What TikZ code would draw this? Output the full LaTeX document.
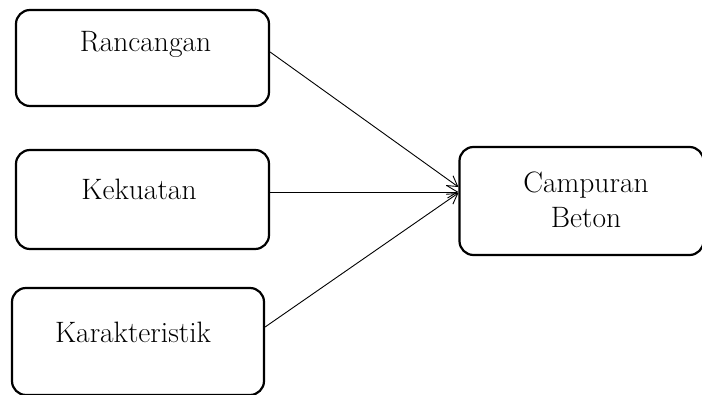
\documentclass[tikz,border=0pt]{standalone}
\usetikzlibrary{arrows.meta,calc}
\begin{document}
\begin{tikzpicture}[x=1pt,y=1pt,
  box/.style={draw=black, line width=2.2pt, rounded corners=14pt, rectangle, inner sep=0pt},
  lbl/.style={anchor=base, inner sep=0pt, font=\fontsize{29.5}{34}\selectfont},
  arr/.style={line width=0.9pt, -{Straight Barb[length=10pt,width=12pt,line width=0.9pt]}}]
\useasboundingbox (0,0) rectangle (702,394);
\node[box, minimum width=253pt, minimum height=96pt] (b1) at (142.5,336) {};
\node[box, minimum width=253pt, minimum height=99pt] (b2) at (142.5,194.5) {};
\node[box, minimum width=252pt, minimum height=107pt] (b3) at (138,52.5) {};
\node[box, minimum width=244pt, minimum height=108pt] (b4) at (581.5,193) {};
\node[lbl] (t1) at (145.5,342) {Rancangan};
\node[lbl] (t2) at (139,194) {Kekuatan};
\node[lbl] (t3) at (133,52) {Karakteristik};
\node[lbl] (t4a) at (586,201) {Campuran};
\node[lbl] (t4b) at (586,166) {Beton};
\coordinate (e1) at ($(b4.west)+(0,14)$);
\coordinate (e2) at ($(b4.west)+(0,9)$);
\coordinate (e3) at ($(b4.west)+(0,8)$);
\draw[arr] ($(b1.east)+(0,6)$) -- (e1);
\draw[arr] ($(b2.east)+(0,7.5)$) -- (e2);
\draw[arr] ($(b3.east)+(0,14.5)$) -- (e3);
\end{tikzpicture}
\end{document}
